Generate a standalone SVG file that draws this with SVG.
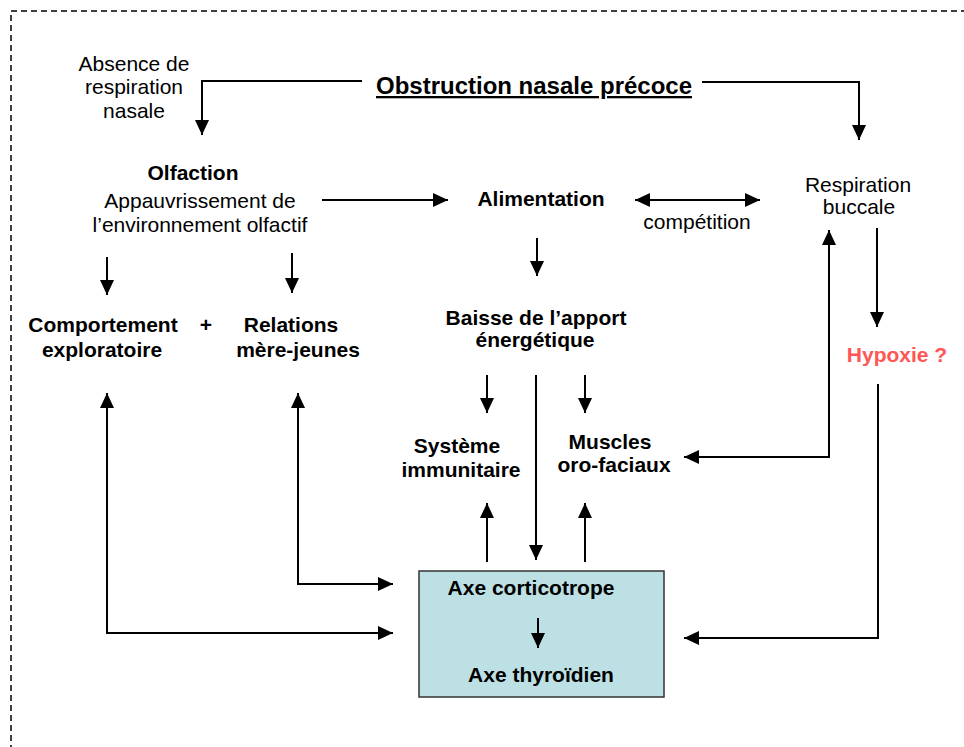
<svg xmlns="http://www.w3.org/2000/svg" width="964" height="747" viewBox="0 0 964 747">
<defs>
<style>
text{font-family:"Liberation Sans",Arial,sans-serif;fill:#000;text-anchor:middle}
.n{font-size:21px}
.b{font-size:21px;font-weight:bold}
.red{fill:#FF5555}
.ln{fill:none;stroke:#000;stroke-width:2}
.ah{marker-end:url(#arr)}
.ah2{marker-start:url(#arr);marker-end:url(#arr)}
</style>
<marker id="arr" markerUnits="userSpaceOnUse" markerWidth="16" markerHeight="14" refX="15" refY="7" orient="auto-start-reverse">
<path d="M0,0 L15,7 L0,14 z" fill="#000"/>
</marker>
</defs>
<rect width="964" height="747" fill="#fff"/>
<rect id="frame" x="11" y="11" width="1000" height="1000" fill="none" stroke="#000" stroke-width="1.5" stroke-dasharray="6 4"/>

<g id="connectors">
<path class="ln ah" d="M362,81 H202 V135"/>
<path class="ln ah" d="M702,82 H859 V140"/>
<path class="ln ah" d="M322,200 H448"/>
<path class="ln ah2" d="M635,200 H760"/>
<path class="ln ah" d="M537,238 V276"/>
<path class="ln ah" d="M107,257 V295"/>
<path class="ln ah" d="M292,253 V293"/>
<path class="ln ah" d="M487,375 V413"/>
<path class="ln ah" d="M585,375 V413"/>
<path class="ln ah" d="M536,375 V560"/>
<path class="ln ah" d="M487,562 V503"/>
<path class="ln ah" d="M585,562 V503"/>
<path class="ln ah2" d="M684,457 H829 V230"/>
<path class="ln ah" d="M877,228 V327"/>
<path class="ln ah" d="M878,384 V638 H684"/>
<path class="ln ah2" d="M107,393 V633 H393"/>
<path class="ln ah2" d="M298,393 V584 H393"/>
</g>

<g id="absence"><text class="n" x="134" y="71">Absence de</text><text class="n" x="134" y="94">respiration</text><text class="n" x="134" y="118">nasale</text></g>
<g id="obstruction"><text class="b" x="534" y="94" textLength="316" lengthAdjust="spacingAndGlyphs" style="font-size:23px;text-decoration:underline">Obstruction nasale précoce</text></g>
<g id="olfaction"><text class="b" x="193" y="180">Olfaction</text><text class="n" x="200" y="208">Appauvrissement de</text><text class="n" x="200" y="232">l’environnement olfactif</text></g>
<g id="alimentation"><text class="b" x="541" y="206">Alimentation</text></g>
<g id="competition"><text class="n" x="697" y="229">compétition</text></g>
<g id="respiration"><text class="n" x="858" y="192">Respiration</text><text class="n" x="859" y="214">buccale</text></g>
<g id="comportement"><text class="b" x="103" y="332">Comportement</text><text class="b" x="102" y="357">exploratoire</text></g>
<g id="plus"><text class="b" x="206" y="332">+</text></g>
<g id="relations"><text class="b" x="291" y="332">Relations</text><text class="b" x="298" y="357">mère-jeunes</text></g>
<g id="baisse"><text class="b" x="536" y="325">Baisse de l’apport</text><text class="b" x="535" y="347">énergétique</text></g>
<g id="systeme"><text class="b" x="457" y="453">Système</text><text class="b" x="461" y="477">immunitaire</text></g>
<g id="muscles"><text class="b" x="610" y="449">Muscles</text><text class="b" x="614" y="472">oro-faciaux</text></g>
<g id="hypoxie"><text class="b red" x="897" y="362">Hypoxie ?</text></g>
<g id="axes">
<rect x="419" y="571" width="245" height="126" fill="#BCE0E3" stroke="#333" stroke-width="1.5"/>
<text class="b" x="531" y="595">Axe corticotrope</text>
<path class="ln ah" d="M538,618 V648"/>
<text class="b" x="541" y="682">Axe thyroïdien</text>
</g>
</svg>
